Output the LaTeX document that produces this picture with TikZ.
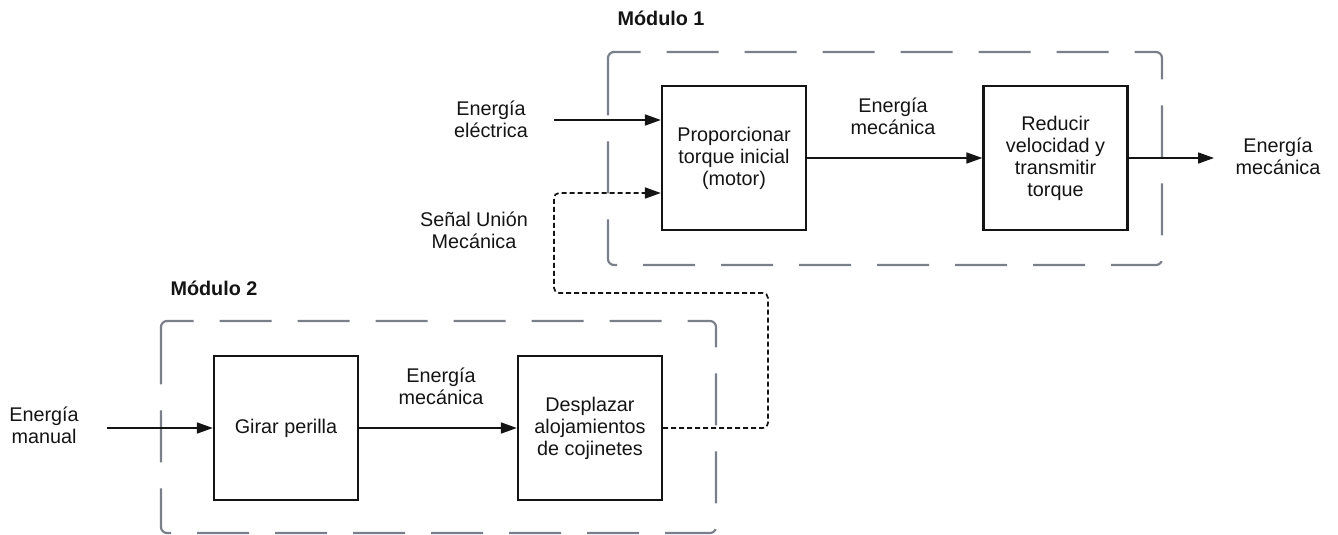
\documentclass[tikz,border=0pt]{standalone}
\usepackage{fontspec}
\setmainfont{Liberation Sans}
\usetikzlibrary{arrows.meta}
\definecolor{frame}{RGB}{122,127,137}
\definecolor{ink}{RGB}{20,20,20}
\begin{document}
\begin{tikzpicture}[x=1pt,y=-1pt,
  font=\fontsize{19.8}{22}\selectfont, text=ink,
  fn/.style={draw=ink, line width=2.3pt, minimum width=144pt, minimum height=144pt, inner sep=0pt, align=center},
  lbl/.style={align=center, inner sep=0pt},
  arr/.style={draw=ink, line width=1.7pt, -{Triangle[length=16pt,width=11pt]}},
  sig/.style={arr, dash pattern=on 5pt off 3pt, rounded corners=5pt},
  frm/.style={draw=frame, line width=2.2pt, dash pattern=on 52pt off 26pt, rounded corners=6pt},
  ttl/.style={font=\fontsize{19.8}{22}\selectfont\bfseries, inner sep=0pt, anchor=base}]
\useasboundingbox (0,0) rectangle (1338,535);

% module frames
\draw[frm] (608,80) -- (608,52) -- (1162,52) -- (1162,265) -- (608,265) -- cycle;
\draw[frm] (161,349) -- (161,321) -- (716,321) -- (716,533) -- (161,533) -- cycle;
\node[ttl] (t1) at (661,26) {Módulo 1};
\node[ttl] (t2) at (214,295) {Módulo 2};

% function boxes
\node[fn] (prop) at (734,158) {Proporcionar\\torque inicial\\(motor)};
\node[fn] (red) at (1055.5,158) {Reducir\\velocidad y\\transmitir\\torque};
\node[fn] (gir) at (286,428) {Girar perilla};
\node[fn] (desp) at (590,428) {Desplazar\\alojamientos\\de cojinetes};

% labels
\node[lbl] (lel) at (491,119) {Energía\\eléctrica};
\node[lbl] (lm1) at (893,116) {Energía\\mecánica};
\node[lbl] (lout) at (1278,156) {Energía\\mecánica};
\node[lbl] (lman) at (44,425) {Energía\\manual};
\node[lbl] (lm2) at (441,386) {Energía\\mecánica};
\node[lbl] (lsig) at (474,230) {Señal Unión\\Mecánica};

% connectors
\coordinate (e1) at (554,120);
\coordinate (o1) at (1214,158);
\coordinate (m0) at (107,428);
\coordinate (s1) at (768,293);
\coordinate (s2) at (554,193);
\draw[arr] (e1) -- (e1 -| prop.west);
\draw[arr] (prop.east) -- (red.west);
\draw[arr] (red.east) -- (o1);
\draw[arr] (m0) -- (gir.west);
\draw[arr] (gir.east) -- (desp.west);
\draw[sig] (desp.east) -| (s1) -| (s2) -- (s2 -| prop.west);
\end{tikzpicture}
\end{document}
